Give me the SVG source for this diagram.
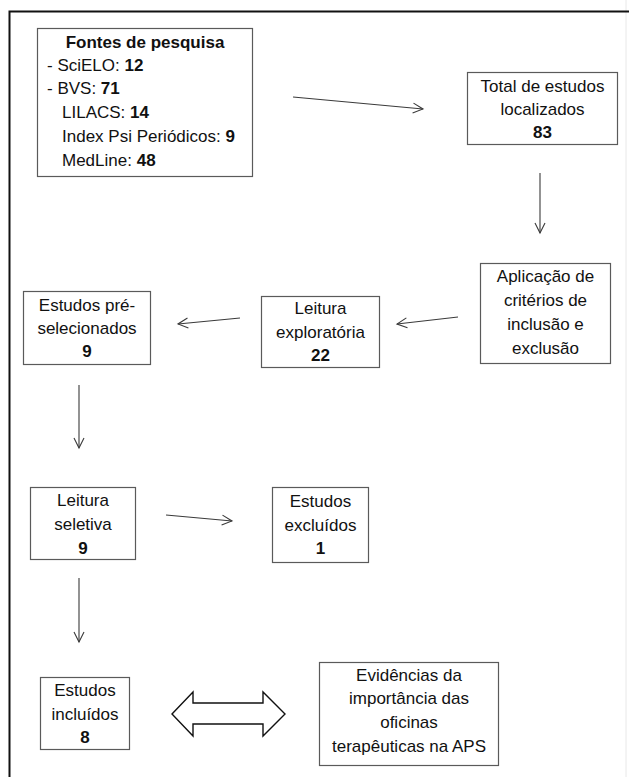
<svg xmlns="http://www.w3.org/2000/svg" width="629" height="777" viewBox="0 0 629 777">
<style>
  .box { fill: #ffffff; stroke: #5a5a5a; stroke-width: 1.2; }
  text { font-family: "Liberation Sans", Arial, sans-serif; font-size: 17px; fill: #111111; }
  .c { text-anchor: middle; }
  .b { font-weight: bold; }
  .conn { stroke: #3a3a3a; stroke-width: 1.1; fill: none; marker-end: url(#open); }
</style>
<defs>
  <marker id="open" markerUnits="userSpaceOnUse" markerWidth="14" markerHeight="14" refX="11" refY="6" orient="auto">
    <path d="M1,1 L11,6 L1,11" fill="none" stroke="#3a3a3a" stroke-width="1.1"/>
  </marker>
</defs>
<rect x="0" y="0" width="629" height="777" fill="#ffffff"/>
<line x1="626" y1="0" x2="626" y2="777" stroke="#e8e8e8" stroke-width="1"/>
<path d="M9.5,777 V11.5 H629" fill="none" stroke="#111111" stroke-width="2"/>

<g id="fontes">
  <rect class="box" x="37.5" y="28.5" width="215" height="148"/>
  <text class="c b" x="145" y="48">Fontes de pesquisa</text>
  <text x="47" y="71">- SciELO: <tspan class="b">12</tspan></text>
  <text x="47" y="94">- BVS: <tspan class="b">71</tspan></text>
  <text x="62" y="118">LILACS: <tspan class="b">14</tspan></text>
  <text x="62" y="142">Index Psi Periódicos: <tspan class="b">9</tspan></text>
  <text x="62" y="166">MedLine: <tspan class="b">48</tspan></text>
</g>

<g id="total">
  <rect class="box" x="467.5" y="72.5" width="150" height="72"/>
  <text class="c" x="542.5" y="92">Total de estudos</text>
  <text class="c" x="542.5" y="115">localizados</text>
  <text class="c b" x="542.5" y="138">83</text>
</g>

<g id="aplicacao">
  <rect class="box" x="480.5" y="263.5" width="130" height="100"/>
  <text class="c" x="545.5" y="282">Aplicação de</text>
  <text class="c" x="545.5" y="306">critérios de</text>
  <text class="c" x="545.5" y="330">inclusão e</text>
  <text class="c" x="545.5" y="354">exclusão</text>
</g>

<g id="leitura-exploratoria">
  <rect class="box" x="261.5" y="296.5" width="118" height="71"/>
  <text class="c" x="320.5" y="314">Leitura</text>
  <text class="c" x="320.5" y="338">exploratória</text>
  <text class="c b" x="320.5" y="361">22</text>
</g>

<g id="pre-selecionados">
  <rect class="box" x="23.5" y="291.5" width="127" height="73"/>
  <text class="c" x="87" y="311">Estudos pré-</text>
  <text class="c" x="87" y="334">selecionados</text>
  <text class="c b" x="87" y="357">9</text>
</g>

<g id="leitura-seletiva">
  <rect class="box" x="30.5" y="487.5" width="105" height="72"/>
  <text class="c" x="83" y="506">Leitura</text>
  <text class="c" x="83" y="530">seletiva</text>
  <text class="c b" x="83" y="554">9</text>
</g>

<g id="excluidos">
  <rect class="box" x="272.5" y="487.5" width="96" height="75"/>
  <text class="c" x="320.5" y="507">Estudos</text>
  <text class="c" x="320.5" y="531">excluídos</text>
  <text class="c b" x="320.5" y="554">1</text>
</g>

<g id="incluidos">
  <rect class="box" x="40.5" y="677.5" width="89" height="72"/>
  <text class="c" x="85" y="696">Estudos</text>
  <text class="c" x="85" y="720">incluídos</text>
  <text class="c b" x="85" y="743">8</text>
</g>

<g id="evidencias">
  <rect class="box" x="319.5" y="662.5" width="179" height="103"/>
  <text class="c" x="409" y="681">Evidências da</text>
  <text class="c" x="409" y="704">importância das</text>
  <text class="c" x="409" y="728">oficinas</text>
  <text class="c" x="409" y="752">terapêuticas na APS</text>
</g>

<g id="connectors">
  <line class="conn" x1="293" y1="97" x2="423" y2="109"/>
  <line class="conn" x1="540" y1="173" x2="540" y2="233"/>
  <line class="conn" x1="458" y1="317" x2="397" y2="324"/>
  <line class="conn" x1="240" y1="318" x2="178" y2="324"/>
  <line class="conn" x1="79" y1="385" x2="79" y2="448"/>
  <line class="conn" x1="166" y1="515" x2="232" y2="521"/>
  <line class="conn" x1="79" y1="578" x2="79" y2="642"/>
  <polygon points="172,714 193,692 193,703 263,703 263,692 285,714 263,736 263,724 193,724 193,736" fill="#ffffff" stroke="#111111" stroke-width="1.4" stroke-linejoin="miter"/>
</g>
</svg>
